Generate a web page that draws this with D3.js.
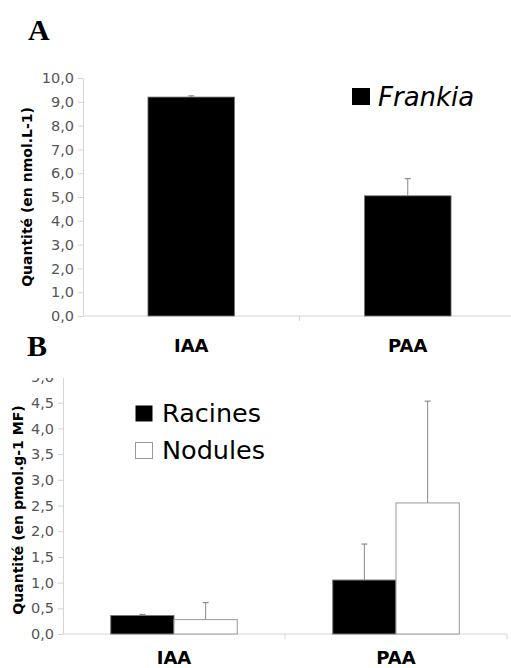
<!DOCTYPE html>
<html>
<head>
<meta charset="utf-8">
<script src="https://cdn.jsdelivr.net/npm/d3@7"></script>
<style>
  body { margin: 0; background: #fff; }
  text { font-family: "DejaVu Sans", Verdana, sans-serif; }
</style>
</head>
<body>
<div id="figure"></div>
<script>
// donnees
var categories = ["IAA", "PAA"];
var frankia = [9.2, 5.05];
var frankiaErr = [0.05, 0.72];
var racines = [0.36, 1.05];
var racinesErr = [0.02, 0.70];
var nodules = [0.28, 2.55];
var nodulesErr = [0.33, 1.98];
var ticksA = [0, 1, 2, 3, 4, 5, 6, 7, 8, 9, 10];
var ticksB = [0, 0.5, 1, 1.5, 2, 2.5, 3, 3.5, 4, 4.5, 5];

var width = 511,
    height = 668;

var fmt = function (d) { return d3.format(".1f")(d).replace(".", ","); };

var svg = d3.select("#figure")
  .append("svg")
    .attr("width", width)
    .attr("height", height);

// axe Y commun (petits traits gris)
function drawYAxis(g, y, ticks, xPos) {
  var ax = g.append("g")
      .attr("transform", "translate(" + xPos + ",0)")
      .call(d3.axisLeft(y).tickValues(ticks).tickFormat(fmt).tickSize(5).tickPadding(4).tickSizeOuter(0));
  ax.select(".domain").attr("stroke", "#d4d4d4");
  ax.selectAll(".tick line").attr("stroke", "#d4d4d4");
  ax.selectAll(".tick text").style("font-size", "14.5px").attr("fill", "#555");
}

// error bars: seulement vers le haut
function drawErr(g, cx, y, v, e) {
  g.append("line").attr("x1", cx).attr("x2", cx).attr("y1", y(v)).attr("y2", y(v + e))
    .attr("stroke", "#8a8a8a").attr("stroke-width", 1);
  g.append("line").attr("x1", cx - 3).attr("x2", cx + 3).attr("y1", y(v + e)).attr("y2", y(v + e))
    .attr("stroke", "#8a8a8a").attr("stroke-width", 1.2);
}

// ---------- Panel A ----------
var gA = svg.append("g");

var yA = d3.scaleLinear().domain([0, 10]).range([316, 78]);
var xA = d3.scaleBand().domain(categories).range([83, 516]).padding(0);
var barWA = xA.bandwidth() * 0.4;

drawYAxis(gA, yA, ticksA, 83);

// x axis
gA.append("line").attr("x1", 83).attr("x2", width).attr("y1", yA(0)).attr("y2", yA(0))
  .attr("stroke", "#d4d4d4");
gA.append("line").attr("x1", xA("PAA")).attr("x2", xA("PAA")).attr("y1", yA(0)).attr("y2", yA(0) + 5)
  .attr("stroke", "#d4d4d4");

categories.forEach(function (c, i) {
  var cx = xA(c) + xA.bandwidth() / 2;
  gA.append("rect")
    .attr("x", cx - barWA / 2)
    .attr("y", yA(frankia[i]))
    .attr("width", barWA)
    .attr("height", yA(0) - yA(frankia[i]))
    .attr("fill", "#000")
    .attr("stroke", "#777")
    .attr("stroke-width", 0.8);
  drawErr(gA, cx, yA, frankia[i], frankiaErr[i]);
  gA.append("text").attr("x", cx).attr("y", 352).text(c)
    .attr("text-anchor", "middle").style("font-size", "18px").style("font-weight", "bold");
});

gA.append("text")
  .attr("transform", "translate(27," + 197 + ") rotate(-90)")
  .attr("dy", "0.35em")
  .attr("text-anchor", "middle")
  .style("font-size", "14px").style("font-weight", "bold")
  .text("Quantité (en nmol.L-1)");

// legende
gA.append("rect").attr("x", 352).attr("y", 88).attr("width", 18).attr("height", 17).attr("fill", "#000");
gA.append("text").attr("x", 378).attr("y", 106).text("Frankia")
  .style("font-size", "26px").style("font-style", "italic");

// ---------- Panel B ----------
svg.append("clipPath").attr("id", "clipB")
  .append("rect").attr("x", 0).attr("y", 378).attr("width", width).attr("height", height - 378);

var gB = svg.append("g").attr("clip-path", "url(#clipB)");

var yB = d3.scaleLinear().domain([0, 5]).range([634, 377]);
var xB = d3.scaleBand().domain(categories).range([63, 507]).padding(0);
var groupW = xB.bandwidth() * 0.57;
var xSub = d3.scaleBand().domain(["Racines", "Nodules"]).range([0, groupW]);

drawYAxis(gB, yB, ticksB, 63);

gB.append("line").attr("x1", 63).attr("x2", 507).attr("y1", yB(0)).attr("y2", yB(0))
  .attr("stroke", "#d4d4d4");
[xB("PAA"), 507].forEach(function (t) {
  gB.append("line").attr("x1", t).attr("x2", t).attr("y1", yB(0)).attr("y2", yB(0) + 5)
    .attr("stroke", "#d4d4d4");
});

var series = [
  { name: "Racines", values: racines, err: racinesErr, fill: "#000", stroke: "#777" },
  { name: "Nodules", values: nodules, err: nodulesErr, fill: "#fff", stroke: "#999" }
];

categories.forEach(function (c, i) {
  var x0 = xB(c) + (xB.bandwidth() - groupW) / 2;
  series.forEach(function (s) {
    var bx = x0 + xSub(s.name);
    gB.append("rect")
      .attr("x", bx)
      .attr("y", yB(s.values[i]))
      .attr("width", xSub.bandwidth())
      .attr("height", yB(0) - yB(s.values[i]))
      .attr("fill", s.fill)
      .attr("stroke", s.stroke)
      .attr("stroke-width", 1);
    drawErr(gB, bx + xSub.bandwidth() / 2, yB, s.values[i], s.err[i]);
  });
  svg.append("text").attr("x", xB(c) + xB.bandwidth() / 2).attr("y", 664).text(c)
    .attr("text-anchor", "middle").style("font-size", "18px").style("font-weight", "bold");
});

svg.append("text")
  .attr("transform", "translate(18," + 510 + ") rotate(-90)")
  .attr("dy", "0.35em")
  .attr("text-anchor", "middle")
  .style("font-size", "14px").style("font-weight", "bold")
  .text("Quantité (en pmol.g-1 MF)");

// legende B
series.forEach(function (s, i) {
  svg.append("rect").attr("x", 135.5).attr("y", 405.5 + i * 37).attr("width", 17).attr("height", 16)
    .attr("fill", s.fill).attr("stroke", i == 0 ? "none" : "#999");
  svg.append("text").attr("x", 162).attr("y", 422 + i * 37).text(s.name)
    .style("font-size", "25.5px");
});

// lettres des panneaux
svg.append("text").attr("x", 28).attr("y", 40).text("A")
  .style("font-family", "'Liberation Serif', 'Times New Roman', serif")
  .style("font-size", "30px").style("font-weight", "bold");
svg.append("text").attr("x", 27).attr("y", 356).text("B")
  .style("font-family", "'Liberation Serif', 'Times New Roman', serif")
  .style("font-size", "30px").style("font-weight", "bold");
</script>
</body>
</html>
